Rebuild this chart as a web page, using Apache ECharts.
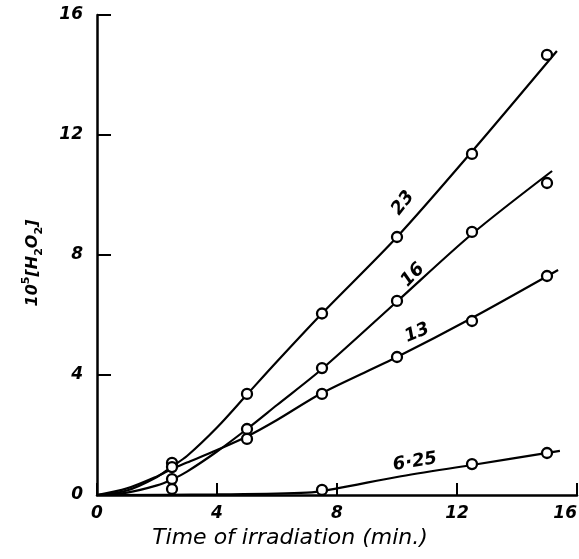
<!DOCTYPE html>
<html>
<head>
<meta charset="utf-8">
<script src="https://cdn.jsdelivr.net/npm/echarts@6/dist/echarts.min.js"></script>
<style>
html,body{margin:0;padding:0;background:#fff;overflow:hidden;}
#chart{width:579px;height:559px;}
</style>
</head>
<body>
<div id="chart"></div>
<script>
// Tick labels
const xTicks = [0, 4, 8, 12, 16];
const yTicks = [0, 4, 8, 12, 16];

// Measured points (circles), x = time (min.)
const ptsX23 = [2.5, 5, 7.5, 10, 12.5, 15];
const ptsY23 = [1.07, 3.37, 6.05, 8.6, 11.37, 14.67];
const ptsX16 = [2.5, 5, 7.5, 10, 12.5, 15];
const ptsY16 = [0.53, 2.2, 4.23, 6.47, 8.77, 10.4];
const ptsX13 = [2.5, 5, 7.5, 10, 12.5, 15];
const ptsY13 = [0.93, 1.87, 3.37, 4.6, 5.8, 7.3];
const ptsX625 = [2.5, 7.5, 12.5, 15];
const ptsY625 = [0.2, 0.17, 1.03, 1.4];

// Drawn curves
const curveX23 = [0, 1, 2, 2.5, 3, 4, 5, 6, 7.5, 10, 12.5, 15.33];
const curveY23 = [0, 0.15, 0.6, 0.95, 1.3, 2.25, 3.35, 4.45, 6.05, 8.6, 11.45, 14.8];
const curveX16 = [0, 1, 2, 2.5, 3, 4, 5, 6, 7.5, 10, 12.5, 15.17];
const curveY16 = [0, 0.08, 0.32, 0.52, 0.78, 1.45, 2.2, 3.0, 4.2, 6.45, 8.7, 10.8];
const curveX13 = [0, 1, 2, 2.5, 3, 4, 5, 6, 7.5, 10, 12.5, 15.37];
const curveY13 = [0, 0.22, 0.62, 0.87, 1.08, 1.5, 1.95, 2.5, 3.4, 4.6, 5.9, 7.5];
const curveX625 = [0, 4, 7, 8, 10, 12.5, 15.43];
const curveY625 = [0, 0.02, 0.08, 0.22, 0.6, 1.0, 1.47];

// Curve labels
const labelText = ['23', '16', '13', '6\u00B725'];
const labelX = [10.2, 10.53, 10.67, 10.6];
const labelY = [9.73, 7.33, 5.4, 1.1];
const labelRot = [52, 46, 22, 9];

const zip = (xs, ys) => xs.map((x, i) => [x, ys[i]]);

const fontFam = '"DejaVu Sans", "Liberation Sans", sans-serif';

function curve(xs, ys) {
  return {
    type: 'line', data: zip(xs, ys), smooth: 0.3, symbol: 'none',
    lineStyle: {color: '#000', width: 2.2}, z: 3, silent: true
  };
}
function pts(xs, ys) {
  return {
    type: 'scatter', data: zip(xs, ys), symbol: 'circle', symbolSize: 10,
    itemStyle: {color: '#fff', borderColor: '#000', borderWidth: 2.3, opacity: 1}, z: 4, silent: true
  };
}

const chart = echarts.init(document.getElementById('chart'), null, {renderer: 'canvas'});
chart.setOption({
  backgroundColor: '#fff',
  animation: false,
  grid: {left: 97, top: 15, width: 480, height: 480, containLabel: false, outerBoundsMode: 'none'},
  xAxis: {
    type: 'value', min: xTicks[0], max: xTicks[xTicks.length - 1], interval: 4,
    axisLine: {lineStyle: {color: '#000', width: 2.5}},
    axisTick: {inside: true, length: 12, lineStyle: {color: '#000', width: 2}},
    splitLine: {show: false},
    axisLabel: {color: '#000', fontSize: 17, fontWeight: 'bold', fontStyle: 'italic', fontFamily: fontFam, margin: 10,
      formatter: v => String(v), hideOverlap: false, alignMaxLabel: 'right'},
    name: 'Time of irradiation (min.)', nameLocation: 'middle', nameGap: 32,
    nameTextStyle: {color: '#000', fontSize: 22, fontStyle: 'italic', fontFamily: fontFam, padding: [0, 94, 0, 0]}
  },
  yAxis: {
    type: 'value', min: yTicks[0], max: yTicks[yTicks.length - 1], interval: 4,
    axisLine: {lineStyle: {color: '#000', width: 2.5}},
    axisTick: {inside: true, length: 14, lineStyle: {color: '#000', width: 2}},
    splitLine: {show: false},
    axisLabel: {color: '#000', fontSize: 17, fontWeight: 'bold', fontStyle: 'italic', fontFamily: fontFam, margin: 14},
    name: '{a|10}{s|5}{a|[H}{b|2}{a|O}{b|2}{a|]}', nameLocation: 'middle', nameGap: 52, nameRotate: 90,
    nameTextStyle: {
      color: '#000', fontFamily: fontFam, padding: [0, 16, 0, 0],
      rich: {
        a: {fontSize: 16, fontWeight: 'bold', fontStyle: 'italic', color: '#000', fontFamily: fontFam, lineHeight: 24, verticalAlign: 'middle'},
        s: {fontSize: 11, fontWeight: 'bold', color: '#000', fontFamily: fontFam, verticalAlign: 'top', lineHeight: 24},
        b: {fontSize: 11, fontWeight: 'bold', color: '#000', fontFamily: fontFam, verticalAlign: 'bottom', lineHeight: 24}
      }
    }
  },
  series: [
    curve(curveX23, curveY23),
    curve(curveX16, curveY16),
    curve(curveX13, curveY13),
    curve(curveX625, curveY625),
    pts(ptsX23, ptsY23),
    pts(ptsX16, ptsY16),
    pts(ptsX13, ptsY13),
    pts(ptsX625, ptsY625),
    {
      type: 'scatter', symbolSize: 0, silent: true, z: 5,
      itemStyle: {opacity: 0},
      data: labelText.map((t, i) => ({
        value: [labelX[i], labelY[i]],
        label: {show: true, formatter: t, rotate: labelRot[i], position: 'inside',
          color: '#000', opacity: 1, textBorderWidth: 0, fontSize: 18, fontWeight: 'bold', fontStyle: 'italic', fontFamily: fontFam}
      }))
    }
  ]
});
</script>
</body>
</html>
